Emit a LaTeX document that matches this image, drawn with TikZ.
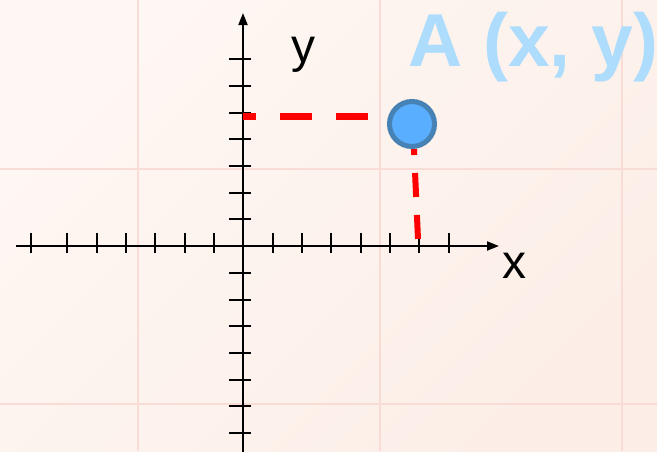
\documentclass[tikz,border=0pt]{standalone}
\usepackage{fontspec}
\setmainfont{Liberation Sans}
\usepackage{tikz}
\usetikzlibrary{arrows.meta, positioning}
\definecolor{bgtop}{HTML}{FEF7F3}
\definecolor{bgbot}{HTML}{FCEEE7}
\definecolor{gridpink}{HTML}{F9DCD5}
\definecolor{ptfill}{HTML}{5AAEFF}
\definecolor{ptdraw}{HTML}{4682B4}
\definecolor{labblue}{HTML}{ADDCFD}
\pgfdeclarelayer{back}
\pgfsetlayers{back,main}
\tikzstyle{gridline} = [draw=gridpink, line width=2pt]
\tikzstyle{axis} = [line width=2pt, -{Triangle[length=12pt,width=9pt]}]
\tikzstyle{tick} = [line width=2pt]
\tikzstyle{hguide} = [draw=red, line width=7pt, dash pattern=on 32pt off 24pt, dash phase=19pt]
\tikzstyle{vguide} = [draw=red, line width=6pt, dash pattern=on 24pt off 18pt, dash phase=18pt]
\tikzstyle{axislabel} = [anchor=base west, inner sep=0pt, font=\fontsize{48}{48}\selectfont]
\tikzstyle{point} = [circle, minimum size=45pt, inner sep=0pt, fill=ptfill,
    draw=ptdraw, line width=5pt]

\begin{document}
\begin{tikzpicture}[x=1pt, y=-1pt]
  \useasboundingbox (0,0) rectangle (657,451);
  \begin{pgfonlayer}{back}
    % Background and grid
    \shade[top color=bgtop, bottom color=bgbot, shading angle=45] (0,0) rectangle (657,451);
    \foreach \gx in {138,380,622}
      \draw[gridline] (\gx,0) -- (\gx,451);
    \foreach \gy in {169,404}
      \draw[gridline] (0,\gy) -- (657,\gy);

    % Axes
    \coordinate (O) at (243,246);
    \coordinate (xmin) at (16,246);
    \coordinate (xmax) at (499,246);
    \coordinate (ymin) at (243,455);
    \coordinate (ymax) at (243,13);
    \draw[axis](xmin)--(xmax);
    \draw[axis](ymin)--(ymax);

    % Ticks
    \foreach \tx in {31,67,97,126,155,185,214,243,273,302,331,361,390,419,449}
      \draw[tick] (\tx,233) -- (\tx,253);
    \foreach \ty in {59,86,113,139,166,193,219,246,273,300,326,353,380,406,433}
      \draw[tick] (229,\ty) -- (251,\ty);
  \end{pgfonlayer}

  % Axis labels
  \node[axislabel](xlab) at (502,278){x};
  \node[axislabel](ylab) at (291,62){y};

  % Point A and its guides
  \node[point](A) at (412,124){};
  \coordinate (ya) at (243,116.5);
  \coordinate (xa) at (418,239);
  \begin{pgfonlayer}{back}
    \draw[hguide](ya) -- (ya -| A.west);
    \draw[vguide]([xshift=2pt]A.south) -- (xa);
  \end{pgfonlayer}
  \node[anchor=base west, inner sep=0pt, text=labblue,
    font=\fontsize{75}{75}\selectfont\bfseries](Alab) at (408,66){A (x, y)};
\end{tikzpicture}
\end{document}
